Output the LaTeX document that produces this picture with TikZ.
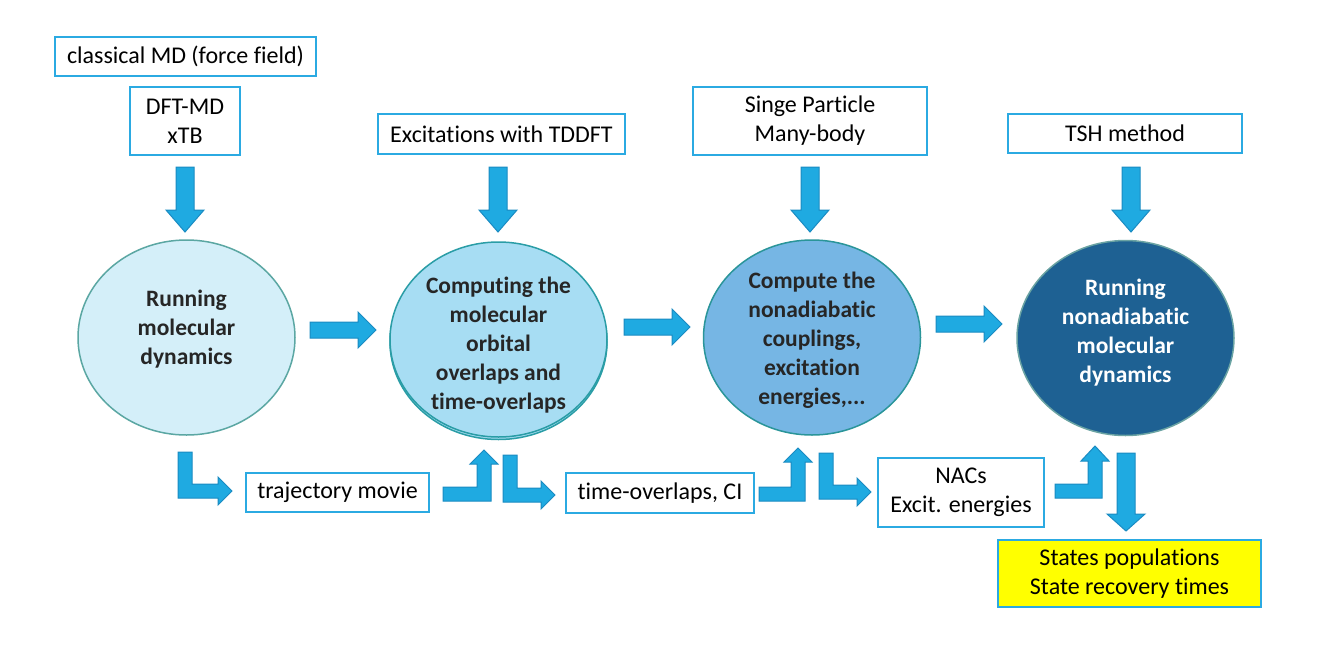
\documentclass[tikz,border=0pt]{standalone}
\usepackage{fontspec}
\setmainfont{Carlito}[Ligatures=NoCommon]
\usetikzlibrary{shapes.geometric}
\definecolor{boxblue}{HTML}{2BAAE2}
\definecolor{arrowblue}{HTML}{1FAAE1}
\definecolor{arrowline}{HTML}{1A8BC2}
\definecolor{textdark}{HTML}{262626}
\definecolor{mdfill}{HTML}{D4EFF9}
\definecolor{mdline}{HTML}{5BA7A3}
\definecolor{ovfill}{HTML}{A7DDF3}
\definecolor{ovline}{HTML}{2A9DA6}
\definecolor{nacfill}{HTML}{76B6E4}
\definecolor{nacline}{HTML}{2A9599}
\definecolor{namdfill}{HTML}{1E6193}
\definecolor{namdline}{HTML}{6AA3A3}
\definecolor{popyellow}{HTML}{FFFF00}
\begin{document}
\begin{tikzpicture}[x=1pt, y=-1pt,
every node/.style={font=\fontsize{24}{29}\selectfont, align=center, text=black},
box/.style={draw=boxblue, line width=2pt, fill=white, inner sep=0pt},
blob/.style={ellipse, line width=1.5pt, minimum width=217pt, minimum height=195pt, inner sep=0pt},
blobtext/.style={font=\fontsize{23.5}{29}\selectfont\bfseries, text=textdark},
barrow/.style={fill=arrowblue, draw=arrowline, line width=1pt, line join=miter}
]
\useasboundingbox[fill=white] (0,0) rectangle (1326,654);

% input boxes
\node[box, minimum width=261pt, minimum height=39pt] at (185.5,56.5) (cmd) {classical MD (force field)};
\node[box, minimum width=110pt, minimum height=68pt] at (185,121) (dft) {DFT-MD\\xTB};
\node[box, minimum width=247pt, minimum height=40pt] at (501.5,134) (tddft) {Excitations with TDDFT};
\node[box, minimum width=234pt, minimum height=68pt] at (810,121) (sp) {Singe Particle\\Many-body};
\node[box, minimum width=234pt, minimum height=39pt] at (1125,133.5) (tsh) {TSH method};

% main steps
\node[blob, fill=mdfill, draw=mdline] at (186.5,337.5) (md) {};
\node[blob, fill=ovfill, draw=ovline] at (498.5,342) (ovs) {};
\node[blob, fill=ovfill, draw=ovline] at (498.5,339.5) (ov) {};
\node[blob, fill=nacfill, draw=nacline] at (812,337.5) (nac) {};
\node[blob, fill=namdfill, draw=namdline] at (1125.5,338) (namd) {};
\node[blobtext] at (186.5,329.5) (mdtext) {Running\\molecular\\dynamics};
\node[blobtext] at (498.5,345.5) (ovtext) {Computing the\\molecular\\orbital\\overlaps and\\time-overlaps};
\node[blobtext] at (812,340) (nactext) {Compute the\\nonadiabatic\\couplings,\\excitation\\energies,...};
\node[blobtext, text=white] at (1125.5,333) (namdtext) {Running\\nonadiabatic\\molecular\\dynamics};

% data boxes
\node[box, minimum width=183pt, minimum height=39pt] at (337.5,492.5) (traj) {trajectory movie};
\node[box, minimum width=188pt, minimum height=40pt] at (660,493) (tov) {time-overlaps, CI};
\node[box, minimum width=166pt, minimum height=69pt] at (961,492.5) (nacs) {NACs\\Excit. energies};
\node[box, fill=popyellow, minimum width=263pt, minimum height=67pt] at (1129.5,573.5) (pop) {States populations\\State recovery times};

% down arrows
\path[barrow] (176,167) -- (194,167) -- (194,210) -- (204,210) -- (185,232) -- (166,210) -- (176,210) -- cycle;
\path[barrow] (489,167) -- (507,167) -- (507,210) -- (517,210) -- (498,232) -- (479,210) -- (489,210) -- cycle;
\path[barrow] (801,167) -- (819,167) -- (819,210) -- (829,210) -- (810,232) -- (791,210) -- (801,210) -- cycle;
\path[barrow] (1122,167) -- (1140,167) -- (1140,210) -- (1150,210) -- (1131,232) -- (1112,210) -- (1122,210) -- cycle;
\path[barrow] (1117,453) -- (1135,453) -- (1135,514) -- (1145,514) -- (1126,531) -- (1107,514) -- (1117,514) -- cycle;

% right arrows
\path[barrow] (310,322) -- (358,322) -- (358,312) -- (376,330) -- (358,348) -- (358,338) -- (310,338) -- cycle;
\path[barrow] (624,319) -- (672,319) -- (672,309) -- (690,327) -- (672,345) -- (672,335) -- (624,335) -- cycle;
\path[barrow] (936,316) -- (984,316) -- (984,306) -- (1002,324) -- (984,342) -- (984,332) -- (936,332) -- cycle;

% bent arrows, down then right
\path[barrow] (178,452) -- (192,452) -- (192,484) -- (218,484) -- (218,477) -- (232,491) -- (218,505) -- (218,498) -- (178,498) -- cycle;
\path[barrow] (503,455) -- (517,455) -- (517,488) -- (541,488) -- (541,481) -- (555,495) -- (541,509) -- (541,502) -- (503,502) -- cycle;
\path[barrow] (819,453) -- (833,453) -- (833,485) -- (857,485) -- (857,478) -- (871,492) -- (857,506) -- (857,499) -- (819,499) -- cycle;

% bent arrows, right then up
\path[barrow] (443,487) -- (477,487) -- (477,464) -- (470,464) -- (484,450) -- (498,464) -- (491,464) -- (491,501) -- (443,501) -- cycle;
\path[barrow] (759,487) -- (791,487) -- (791,462) -- (784,462) -- (798,448) -- (812,462) -- (805,462) -- (805,501) -- (759,501) -- cycle;
\path[barrow] (1055,484) -- (1088,484) -- (1088,461) -- (1081,461) -- (1095,446) -- (1109,461) -- (1102,461) -- (1102,498) -- (1055,498) -- cycle;

\end{tikzpicture}
\end{document}
